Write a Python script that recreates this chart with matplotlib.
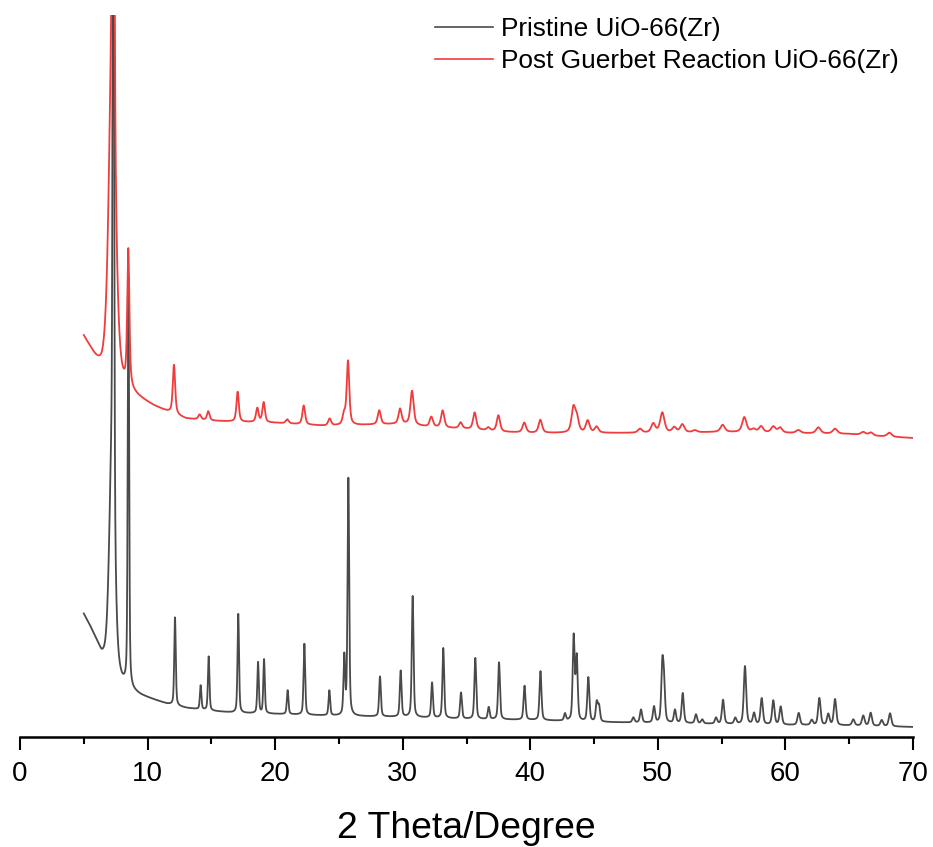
import numpy as np
import matplotlib
matplotlib.use("Agg")
import matplotlib.pyplot as plt
from matplotlib.ticker import MultipleLocator

plt.rcParams["font.family"] = ["Liberation Sans", "DejaVu Sans"]

# ---- diffraction data (2-theta in degrees, intensity in a.u.) ----
two_theta_min, two_theta_max = 5.0, 70.0

# Pristine UiO-66(Zr): background levels
pristine_bg_x = [5.0, 5.4, 5.8, 6.1, 6.4, 6.8, 7.3, 8.0, 8.75, 9.5, 10.5, 11.5, 13.0, 15.0,
                 17.0, 20.0, 25.0, 30.0, 35.0, 40.0, 45.0, 50.0, 55.0, 60.0, 65.0, 70.0]
pristine_bg_y = [122, 112, 100, 90, 78, 68, 60, 50, 45, 41, 37, 33, 29, 26,
                 24, 23, 21, 20, 18, 17, 15, 14, 13, 12, 11.5, 10]

# Pristine UiO-66(Zr): reflections (position, height above background, FWHM)
pristine_pos = [7.32, 7.20, 8.50, 12.15, 14.16, 14.79, 17.11, 18.66, 19.13, 20.98,
                22.29, 24.25, 25.42, 25.74, 28.22, 29.84, 30.78, 32.30, 33.18, 34.57,
                35.69, 36.74, 37.55, 39.55, 40.80, 42.72, 43.40, 43.64, 44.55, 45.21,
                45.39, 48.08, 48.68, 49.70, 50.35, 50.48, 51.34, 51.95, 52.99, 53.48,
                54.56, 55.11, 56.07, 56.83, 57.54, 58.14, 59.05, 59.63, 61.04, 62.06,
                62.66, 63.36, 63.89, 65.32, 66.10, 66.68, 67.55, 68.20]
pristine_height = [1000, 200, 410, 88, 24, 54, 99, 51, 54, 24,
                   71, 25, 58, 237, 40, 46, 121, 35, 70, 26,
                   61, 12, 57, 34, 49, 7, 84, 63, 44, 19,
                   15, 5, 13, 16, 54, 35, 13, 30, 9, 4,
                   6, 24, 6, 58, 11, 26, 24, 18, 12, 5,
                   27, 11, 26, 6, 10, 13, 6, 13]
pristine_fwhm = [0.12, 0.5, 0.13, 0.14, 0.14, 0.14, 0.14, 0.14, 0.14, 0.15,
                 0.15, 0.15, 0.15, 0.15, 0.16, 0.16, 0.16, 0.16, 0.16, 0.17,
                 0.17, 0.17, 0.17, 0.18, 0.18, 0.18, 0.18, 0.18, 0.19, 0.19,
                 0.19, 0.2, 0.2, 0.2, 0.2, 0.2, 0.2, 0.2, 0.21, 0.21,
                 0.21, 0.21, 0.22, 0.22, 0.22, 0.22, 0.22, 0.22, 0.23, 0.23,
                 0.23, 0.23, 0.23, 0.24, 0.24, 0.24, 0.24, 0.24]

# Post Guerbet Reaction UiO-66(Zr): background levels
post_bg_x = [5.0, 5.5, 6.0, 6.4, 7.3, 8.0, 8.75, 9.5, 10.5, 11.5, 13.0, 15.0,
             17.0, 20.0, 24.0, 27.0, 30.0, 32.0, 35.0, 38.0, 40.0, 45.0, 50.0,
             55.0, 60.0, 65.0, 67.0, 70.0]
post_bg_y = [398, 385, 370, 358, 346, 340, 340, 336, 330, 325, 318, 316,
             315, 314, 311, 312, 313, 310, 308, 305, 304, 304, 304,
             305, 304, 303, 301, 299]

# Post Guerbet Reaction UiO-66(Zr): reflections
post_pos = [7.32, 7.22, 8.49, 12.07, 14.08, 14.76, 17.06, 18.60, 19.10, 20.95,
            22.24, 24.27, 25.40, 25.71, 28.16, 29.79, 30.73, 32.24, 33.13, 34.54,
            35.64, 36.71, 37.50, 39.53, 40.79, 43.38, 43.65, 44.50, 45.20, 48.60,
            49.64, 50.35, 51.29, 51.92, 52.90, 55.08, 56.78, 57.50, 58.09, 59.05,
            59.58, 61.01, 62.58, 63.89, 66.10, 66.70, 68.15]
post_height = [600, 330, 137, 49, 5, 9, 30, 14, 20, 4,
               19, 7, 10, 64, 14, 15, 34, 10, 17, 6,
               17, 3, 16, 10, 13, 24, 14, 12, 6, 4,
               9, 20, 5, 8, 2, 7, 15, 3, 6, 6,
               5, 3, 6, 5, 3, 3, 4]
post_fwhm = [0.15, 0.6, 0.2, 0.22, 0.25, 0.24, 0.22, 0.24, 0.24, 0.28,
             0.25, 0.28, 0.26, 0.24, 0.28, 0.28, 0.3, 0.3, 0.3, 0.3,
             0.3, 0.3, 0.3, 0.32, 0.32, 0.35, 0.35, 0.35, 0.35, 0.38,
             0.38, 0.4, 0.38, 0.38, 0.38, 0.4, 0.4, 0.4, 0.4, 0.4,
             0.4, 0.42, 0.42, 0.42, 0.42, 0.42, 0.42]

series_labels = ["Pristine UiO-66(Zr)", "Post Guerbet Reaction UiO-66(Zr)"]
series_colors = ["#4a4a4a", "#f03c3c"]
series_eta = [0.45, 0.6]


def pattern(x, bg_x, bg_y, pos, height, fwhm, eta):
    """Pseudo-Voigt peak profile on top of the background."""
    y = np.interp(x, bg_x, bg_y)
    for p, h, w in zip(pos, height, fwhm):
        hw = w / 2.0
        d = x - p
        lor = 1.0 / (1.0 + (d / hw) ** 2)
        gau = np.exp(-np.log(2.0) * (d / hw) ** 2)
        y = y + h * (eta * lor + (1 - eta) * gau)
    return y


x = np.arange(two_theta_min, two_theta_max + 1e-9, 0.01)
y_pristine = pattern(x, pristine_bg_x, pristine_bg_y, pristine_pos, pristine_height,
                     pristine_fwhm, series_eta[0])
y_post = pattern(x, post_bg_x, post_bg_y, post_pos, post_height, post_fwhm, series_eta[1])

fig = plt.figure(figsize=(9.33, 8.47), dpi=100)
ax = fig.add_axes([20 / 933, 110 / 847, 893 / 933, 722 / 847])

ax.plot(x, y_pristine, color=series_colors[0], lw=1.3, label=series_labels[0])
ax.plot(x, y_post, color=series_colors[1], lw=1.3, label=series_labels[1])

ax.set_xlim(0, 70)
ax.set_ylim(0, 722)
ax.xaxis.set_major_locator(MultipleLocator(10))
ax.xaxis.set_minor_locator(MultipleLocator(5))
for side in ("left", "right", "top"):
    ax.spines[side].set_visible(False)
ax.spines["bottom"].set_linewidth(1.8)
ax.set_yticks([])
ax.tick_params(axis="x", which="major", direction="out", length=9.4, width=1.5,
               labelsize=20, pad=8)
ax.tick_params(axis="x", which="minor", direction="out", length=4.7, width=1.5)
ax.set_xlabel("2 Theta/Degree", fontsize=26.8, labelpad=17)

leg = ax.legend(loc="upper left", bbox_to_anchor=(435 / 933, 1 - 17 / 847),
                bbox_transform=fig.transFigure, frameon=False, fontsize=18.9,
                handlelength=2.2, handletextpad=0.33, labelspacing=0.3,
                borderpad=0, borderaxespad=0)
for line in leg.get_lines():
    line.set_linewidth(1.2)

fig.savefig("out.png", dpi=100)
